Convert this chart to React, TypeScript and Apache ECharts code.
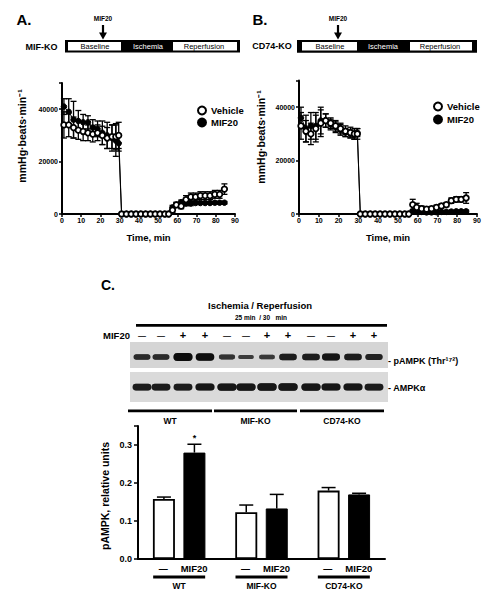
import React, { useEffect, useRef } from "react";
import * as echarts from "echarts";

const FF = '"Liberation Sans", Arial, Helvetica, sans-serif';

// ---------- Panels A & B: time course (min) ----------
const timeMin = [
  1, 3.5, 6, 8.5, 11, 13.5, 16, 18.5, 21, 23.5, 26, 28, 29.5,
  31, 33.5, 36, 38.5, 41, 43.5, 46, 48.5, 51, 53.5, 55.5,
  57.5, 59.5, 62, 64.5, 67, 69.5, 72, 74.5, 77, 79.5, 82, 84.5,
];

// Panel A (MIF-KO)
const vehicleA = [
  34000, 34000, 33000, 32000, 31500, 31000, 30500, 31000, 30000, 29000, 29500, 29500, 30000,
  0, 0, 0, 0, 0, 0, 0, 0, 0, 0, 0,
  1500, 3500, 3000, 5500, 6500, 6500, 7000, 7000, 7000, 7500, 7500, 9500,
];
const vehicleAErr = [
  5000, 4500, 4000, 3500, 3500, 3000, 3000, 3000, 3500, 4000, 4500, 5000, 5000,
  0, 0, 0, 0, 0, 0, 0, 0, 0, 0, 0,
  1000, 1000, 1000, 1500, 1500, 1500, 1500, 1500, 1500, 1500, 1500, 2000,
];
const mif20A = [
  41000, 39000, 36000, 35500, 35000, 35000, 33000, 32500, 31000, 30000, 29000, 28000, 27000,
  0, 0, 0, 0, 0, 0, 0, 0, 0, 0, 0,
  2500, 3500, 4500, 4000, 4000, 4200, 4200, 4200, 4200, 4300, 4300, 4300,
];
const mif20AErr = [
  3000, 5000, 7000, 4000, 3000, 2500, 3000, 3000, 4500, 5000, 5000, 6000, 3000,
  0, 0, 0, 0, 0, 0, 0, 0, 0, 0, 0,
  800, 800, 800, 800, 800, 500, 500, 500, 500, 500, 500, 500,
];

// Panel B (CD74-KO)
const vehicleB = [
  33000, 31000, 30000, 32000, 34000, 35000, 34000, 33000, 32000, 31000, 30500, 30000, 30000,
  0, 0, 0, 0, 0, 0, 0, 0, 0, 0, 0,
  3500, 2500, 2000, 1800, 2000, 2500, 3000, 3500, 5000, 5500, 5500, 6000,
];
const vehicleBErr = [
  5000, 4000, 4000, 5000, 5000, 2500, 2000, 2000, 2000, 2000, 2000, 2000, 2000,
  0, 0, 0, 0, 0, 0, 0, 0, 0, 0, 0,
  2000, 1500, 1000, 800, 800, 800, 800, 800, 1000, 1000, 1000, 2000,
];
const mif20B = [
  36000, 32000, 33000, 33000, 35000, 35000, 33500, 32500, 31500, 30500, 30000, 29500, 30500,
  0, 0, 0, 0, 0, 0, 0, 0, 0, 0, 0,
  1000, 800, 800, 600, 600, 700, 800, 800, 900, 1000, 1000, 1000,
];
const mif20BErr = [
  4000, 5000, 5000, 5000, 5000, 2500, 2000, 2000, 2000, 1500, 1500, 1500, 1500,
  0, 0, 0, 0, 0, 0, 0, 0, 0, 0, 0,
  500, 500, 500, 500, 500, 500, 500, 500, 500, 500, 500, 500,
];

const timeTicks = [0, 90, 10];
const pressureTicks = [0, 50000, 20000];

// ---------- Panel C: western blot + quantification ----------
const laneTreatment = ["—", "—", "+", "+", "—", "—", "+", "+", "—", "—", "+", "+"];
const pampkSignal = [0.55, 0.55, 1.0, 0.9, 0.45, 0.3, 0.35, 0.7, 0.72, 0.8, 0.7, 0.65];
const ampkSignal = [0.75, 0.75, 0.75, 0.8, 0.85, 0.85, 0.88, 0.88, 0.85, 0.8, 0.8, 0.75];
const blotGroups = ["WT", "MIF-KO", "CD74-KO"];

const groups = ["WT", "MIF-KO", "CD74-KO"];
const treatmentLabels = ["—", "MIF20"];
const barVehicle = [0.158, 0.123, 0.18];
const barVehicleErr = [0.005, 0.019, 0.008];
const barMif20 = [0.28, 0.133, 0.17];
const barMif20Err = [0.022, 0.037, 0.003];
const mif20Sig = ["*", "", ""];
const barTicks = [0, 0.35, 0.1];

// ---------- layout constants ----------
const laneX = [142, 161, 183, 205, 227, 246, 267, 288, 311, 331, 353, 374];
const BAR_W = 22;
const BAR_GAP = 8.5;

const triples = (t: number[], v: number[], e: number[]) => t.map((x, i) => [x, v[i], e[i]]);
const pairs = (t: number[], v: number[]) => t.map((x, i) => [x, v[i]]);

const errRender = (cap: number) => (params: any, api: any) => {
  const x = api.value(0);
  const y = api.value(1);
  const e = api.value(2);
  if (!e) return null;
  const hi = api.coord([x, y + e]);
  const lo = api.coord([x, y - e]);
  const style = { stroke: "#000", lineWidth: 1.3 };
  return {
    type: "group",
    children: [
      { type: "line", shape: { x1: hi[0], y1: hi[1], x2: lo[0], y2: lo[1] }, style },
      { type: "line", shape: { x1: hi[0] - cap, y1: hi[1], x2: hi[0] + cap, y2: hi[1] }, style },
      { type: "line", shape: { x1: lo[0] - cap, y1: lo[1], x2: lo[0] + cap, y2: lo[1] }, style },
    ],
  };
};

const barErrRender = (offset: number, sig: string[]) => (params: any, api: any) => {
  const c = api.value(0);
  const y = api.value(1);
  const e = api.value(2);
  const base = api.coord([c, y]);
  const hi = api.coord([c, y + e]);
  const x = base[0] + offset;
  const style = { stroke: "#000", lineWidth: 1.5 };
  const children: any[] = [
    { type: "line", shape: { x1: x, y1: base[1], x2: x, y2: hi[1] }, style },
    { type: "line", shape: { x1: x - 7, y1: hi[1], x2: x + 7, y2: hi[1] }, style },
  ];
  const s = sig[params.dataIndex];
  if (s) {
    children.push({
      type: "text",
      x,
      y: hi[1] - 2,
      style: {
        text: s, fontSize: 9, fontWeight: "bold", fontFamily: FF, fill: "#000",
        align: "center", verticalAlign: "bottom", textAlign: "center", textVerticalAlign: "bottom",
      },
    });
  }
  return { type: "group", children };
};

function buildGraphics() {
  const g: any[] = [];
  const text = (x: number, y: number, t: string, size: number, o: any = {}) =>
    g.push({
      type: "text", x, y, rotation: o.rot || 0, z: 10,
      style: {
        text: t, fontSize: size, fontWeight: o.w || "bold", fontFamily: FF, fill: o.fill || "#000",
        align: o.align || "center", verticalAlign: "middle",
        textAlign: o.align || "center", textVerticalAlign: "middle",
      },
    });
  const rect = (x: number, y: number, w: number, h: number, fill: string, r = 0, extra: any = {}) =>
    g.push({ type: "rect", z: 5, shape: { x, y, width: w, height: h, r }, style: { fill, ...extra } });
  const arrow = (x: number) => {
    g.push({ type: "line", z: 5, shape: { x1: x, y1: 25, x2: x, y2: 34 }, style: { stroke: "#000", lineWidth: 2.2 } });
    g.push({ type: "polygon", z: 5, shape: { points: [[x - 4, 32.5], [x + 4, 32.5], [x, 39.5]] }, style: { fill: "#000" } });
  };

  // Panel labels
  text(24, 19.5, "A.", 15);
  text(260, 19.5, "B.", 15);
  text(108, 285, "C.", 14);

  // Protocol A
  text(103, 18, "MIF20", 6.5);
  arrow(103);
  text(41.5, 47, "MIF-KO", 9);
  rect(65, 40, 175, 12.5, "#000");
  rect(68, 42, 53, 8.5, "#fff");
  rect(173, 42, 64, 8.5, "#fff");
  text(95, 46.3, "Baseline", 7.5, { w: "normal" });
  text(148, 46.3, "Ischemia", 7.5, { w: "normal", fill: "#fff" });
  text(204, 46.3, "Reperfusion", 7.5, { w: "normal" });

  // Protocol B
  text(338, 18, "MIF20", 6.5);
  arrow(338);
  text(272, 46, "CD74-KO", 9);
  rect(297, 40, 180, 12.7, "#000");
  rect(302, 42, 55, 8.5, "#fff");
  rect(410, 42, 62, 8.5, "#fff");
  text(330, 46.3, "Baseline", 7.5, { w: "normal" });
  text(383, 46.3, "Ischemia", 7.5, { w: "normal", fill: "#fff" });
  text(440, 46.3, "Reperfusion", 7.5, { w: "normal" });

  // Y axis titles A, B
  text(22, 136, "mmHg·beats·min⁻¹", 10.5, { rot: Math.PI / 2 });
  text(261, 137, "mmHg·beats·min⁻¹", 10.5, { rot: Math.PI / 2 });

  // Panel C header
  text(260, 305, "Ischemia / Reperfusion", 9.5);
  text(261, 317, "25 min  / 30   min", 6.5);
  rect(136, 324, 251, 2.8, "#000");
  text(116.5, 335, "MIF20", 9.5);
  laneTreatment.forEach((s, i) => text(laneX[i], 335, s, s === "+" ? 11 : 8));

  // Blots
  rect(130, 342, 258, 26, "#d5d5d5");
  rect(130, 372, 258, 30, "#dadada");
  pampkSignal.forEach((s, i) => {
    const w = 14 + 5 * s;
    const h = 2.5 + 5.5 * s;
    const c = Math.round(80 - 70 * s);
    rect(laneX[i] - w / 2, 357 - h / 2, w, h, `rgb(${c},${c},${c})`, h / 2, { shadowBlur: 1.5, shadowColor: "rgba(0,0,0,0.5)" });
  });
  ampkSignal.forEach((s, i) => {
    const w = 15 + 5 * s;
    const h = 3 + 5 * s;
    const c = Math.round(80 - 70 * s);
    rect(laneX[i] - w / 2, 387 - h / 2, w, h, `rgb(${c},${c},${c})`, h / 2, { shadowBlur: 1.5, shadowColor: "rgba(0,0,0,0.5)" });
  });
  text(388, 361, "- pAMPK (Thr¹⁷²)", 9, { align: "left" });
  text(388, 388, "- AMPKα", 9, { align: "left" });

  // Blot group lines
  const spans = [[128, 212], [214, 297], [300, 384]];
  blotGroups.forEach((name, i) => {
    rect(spans[i][0], 409.5, spans[i][1] - spans[i][0], 2.8, "#000");
    text((spans[i][0] + spans[i][1]) / 2, 421, name, 8.5);
  });

  // Bar chart y title
  text(105, 496, "pAMPK, relative units", 10.5, { rot: Math.PI / 2 });
  return g;
}

const axisBase = {
  axisLine: { show: true, onZero: false, lineStyle: { color: "#000", width: 2 } },
  axisTick: { show: true, length: 3, lineStyle: { color: "#000", width: 1.5 } },
  splitLine: { show: false },
};

function timeXAxis(gridIndex: number) {
  return {
    type: "value", gridIndex, min: timeTicks[0], max: timeTicks[1], interval: timeTicks[2],
    ...axisBase,
    axisLabel: { fontSize: 7, fontWeight: "bold", fontFamily: FF, color: "#000", margin: 3 },
    name: "Time, min", nameLocation: "middle", nameGap: 18,
    nameTextStyle: { fontSize: 9.5, fontWeight: "bold", fontFamily: FF, color: "#000" },
  };
}
function pressureYAxis(gridIndex: number) {
  return {
    type: "value", gridIndex, min: pressureTicks[0], max: pressureTicks[1], interval: pressureTicks[2],
    ...axisBase,
    axisLabel: {
      fontSize: 7, fontWeight: "bold", fontFamily: FF, color: "#000", margin: 4,
      formatter: (v: number) => (v > 45000 ? "" : String(v)),
    },
  };
}

function lineSeries(name: string, gi: number, data: number[], open: boolean) {
  return {
    type: "line", name, xAxisIndex: gi, yAxisIndex: gi, z: 3,
    data: pairs(timeMin, data),
    symbol: "circle", symbolSize: 5.5, showSymbol: true,
    color: "#000",
    lineStyle: { color: "#000", width: 1 },
    itemStyle: open
      ? { color: "#fff", borderColor: "#000", borderWidth: 1.8 }
      : { color: "#000", borderColor: "#000", borderWidth: 1 },
  };
}
function errSeries(gi: number, data: number[], err: number[]) {
  return {
    type: "custom", xAxisIndex: gi, yAxisIndex: gi, z: 2,
    renderItem: errRender(3),
    data: triples(timeMin, data, err),
    encode: { x: 0, y: 1 },
    silent: true,
  };
}

export default function App() {
  const ref = useRef<HTMLDivElement>(null);
  useEffect(() => {
    if (!ref.current) return;
    const chart = echarts.init(ref.current, null, { renderer: "svg" });
    const legendCommon = {
      orient: "vertical", icon: "circle", itemWidth: 8, itemHeight: 8,
      data: ["Vehicle", "MIF20"],
      textStyle: { fontSize: 9.5, fontWeight: "bold", fontFamily: FF, color: "#000" },
      selectedMode: false,
    };
    const option: any = {
      animation: false,
      backgroundColor: "#fff",
      grid: [
        { left: 62, top: 83, width: 173, height: 131, outerBoundsMode: "none" },
        { left: 299, top: 80.5, width: 178, height: 133.5, outerBoundsMode: "none" },
        { left: 138, top: 426, width: 247, height: 133, outerBoundsMode: "none" },
      ],
      legend: [
        { ...legendCommon, left: 192, top: 100.5, itemGap: 2 },
        { ...legendCommon, left: 428, top: 96.5, itemGap: 3 },
      ],
      xAxis: [
        timeXAxis(0),
        timeXAxis(1),
        {
          type: "category", gridIndex: 2, data: groups,
          axisLine: { show: true, lineStyle: { color: "#000", width: 2 } },
          axisTick: { show: false },
          axisLabel: {
            margin: 4, interval: 0, color: "#000",
            formatter: (v: string) => `{d|${treatmentLabels[0]}}{m|${treatmentLabels[1]}}\n{bar| }\n{g|${v}}`,
            rich: {
              d: { width: 30, align: "center", fontSize: 9, fontWeight: "bold", fontFamily: FF, lineHeight: 11 },
              m: { width: 32, align: "center", fontSize: 9.5, fontWeight: "bold", fontFamily: FF, lineHeight: 11 },
              bar: { width: 52, height: 2.8, lineHeight: 6, backgroundColor: "#000", fontSize: 2 },
              g: { fontSize: 8.5, fontWeight: "bold", fontFamily: FF, lineHeight: 12 },
            },
          },
        },
      ],
      yAxis: [
        pressureYAxis(0),
        pressureYAxis(1),
        {
          type: "value", gridIndex: 2, min: barTicks[0], max: barTicks[1], interval: barTicks[2],
          ...axisBase,
          axisTick: { show: true, length: 4, lineStyle: { color: "#000", width: 1.5 } },
          axisLabel: {
            fontSize: 9, fontWeight: "bold", fontFamily: FF, color: "#000", margin: 6,
            formatter: (v: number) => (v > 0.31 ? "" : v.toFixed(1)),
          },
        },
      ],
      graphic: { elements: buildGraphics() },
      series: [
        errSeries(0, vehicleA, vehicleAErr),
        errSeries(0, mif20A, mif20AErr),
        lineSeries("MIF20", 0, mif20A, false),
        lineSeries("Vehicle", 0, vehicleA, true),
        errSeries(1, vehicleB, vehicleBErr),
        errSeries(1, mif20B, mif20BErr),
        lineSeries("MIF20", 1, mif20B, false),
        lineSeries("Vehicle", 1, vehicleB, true),
        {
          type: "bar", name: "Vehicle bar", xAxisIndex: 2, yAxisIndex: 2,
          data: barVehicle, barWidth: BAR_W, barGap: `${(BAR_GAP / BAR_W) * 100}%`,
          itemStyle: { color: "#fff", borderColor: "#000", borderWidth: 1.8 },
        },
        {
          type: "bar", name: "MIF20 bar", xAxisIndex: 2, yAxisIndex: 2,
          data: barMif20, barWidth: BAR_W,
          itemStyle: { color: "#000", borderColor: "#000", borderWidth: 1 },
        },
        {
          type: "custom", xAxisIndex: 2, yAxisIndex: 2, z: 3, silent: true,
          renderItem: barErrRender(-(BAR_W + BAR_GAP) / 2, ["", "", ""]),
          data: groups.map((_, i) => [i, barVehicle[i], barVehicleErr[i]]),
          encode: { x: 0, y: 1 },
        },
        {
          type: "custom", xAxisIndex: 2, yAxisIndex: 2, z: 3, silent: true,
          renderItem: barErrRender((BAR_W + BAR_GAP) / 2, mif20Sig),
          data: groups.map((_, i) => [i, barMif20[i], barMif20Err[i]]),
          encode: { x: 0, y: 1 },
        },
      ],
    };
    chart.setOption(option);
    return () => chart.dispose();
  }, []);
  return (
    <div
      ref={ref}
      style={{ position: "fixed", left: 0, top: 0, width: 494, height: 600, background: "#fff" }}
    />
  );
}
